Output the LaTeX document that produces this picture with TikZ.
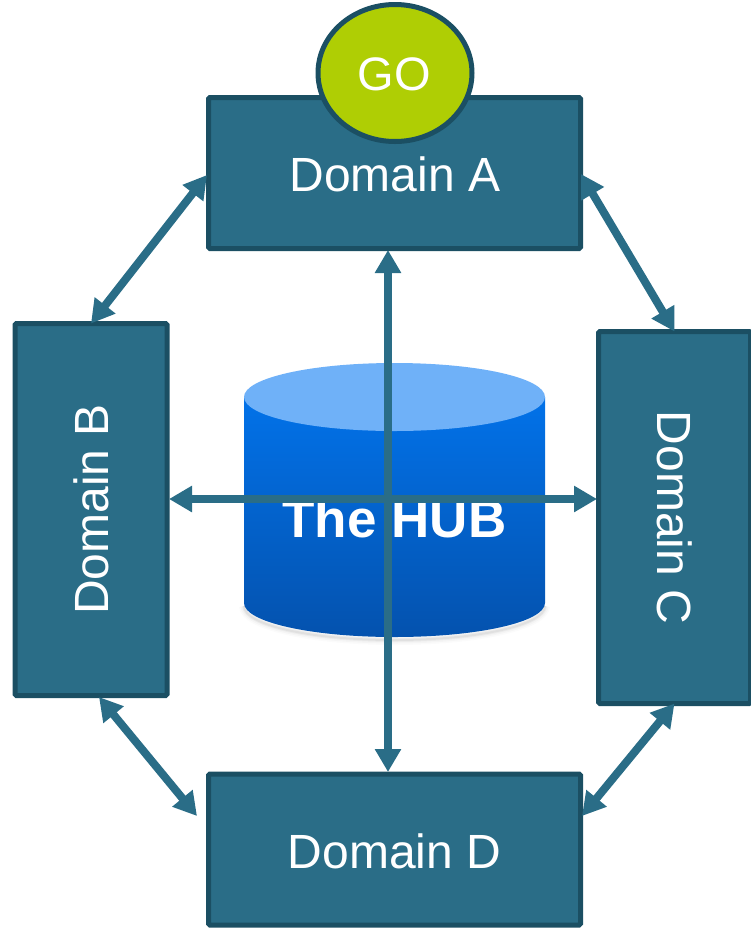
\documentclass[tikz,border=0pt]{standalone}
\usepackage{fontspec}
\setmainfont{Liberation Sans}
\usetikzlibrary{arrows.meta,shapes.geometric}
\definecolor{boxfill}{HTML}{2A6D87}
\definecolor{boxline}{HTML}{1B4F63}
\definecolor{golime}{HTML}{AFCE04}
\definecolor{hubtop}{HTML}{6FB1F8}
\definecolor{hubhigh}{HTML}{0272E9}
\definecolor{hublow}{HTML}{0452AE}
\tikzset{
  domainbox/.style={draw=boxline,fill=boxfill,line width=5pt,rounded corners=1.5pt,outer sep=0pt,inner sep=0pt},
  widebox/.style={domainbox,minimum width=372pt,minimum height=151pt},
  tallbox/.style={domainbox,minimum width=152pt,minimum height=372pt},
  label/.style={text=white,inner sep=0pt,font=\fontsize{48}{50}\selectfont},
  link/.style={draw=boxfill,line width=8pt,{Triangle[length=23pt,width=25pt]}-{Triangle[length=23pt,width=25pt]}},
  axislink/.style={link}
}
\begin{document}
\begin{tikzpicture}[x=1pt,y=-1pt]
\useasboundingbox (0,0) rectangle (751,930);
% hub cylinder
\foreach \w/\o in {10/0.015,7/0.025,4/0.035,2/0.05}{
  \draw[line width=\w pt,black,opacity=\o]
    (244,606) .. controls (244,625) and (311,640) .. (394.5,640)
    .. controls (478,640) and (545,625) .. (545,606);
}
\shade[top color=hubhigh,bottom color=hublow]
  (244,397) -- (244,603) .. controls (244,622) and (311,637) .. (394.5,637)
  .. controls (478,637) and (545,622) .. (545,603) -- (545,397) -- cycle;
\fill[hubtop] (244,397) .. controls (244,378) and (311,363) .. (394.5,363)
  .. controls (478,363) and (545,378) .. (545,397)
  .. controls (545,416) and (478,431) .. (394.5,431)
  .. controls (311,431) and (244,416) .. (244,397) -- cycle;
\node[text=white,inner sep=0pt,anchor=base,font=\fontsize{53}{55}\selectfont\bfseries] (hub) at (394.5,537) {The HUB};
% domains
\node[widebox] (A) at (394.5,173) {};
\node[tallbox] (B) at (91,509.5) {};
\node[tallbox] (C) at (674.5,517.5) {};
\node[widebox] (D) at (394.5,849.5) {};
\node[label,anchor=base] (Alabel) at (395,191) {Domain A};
\node[label,anchor=base,rotate=90] (Blabel) at (108,509.5) {Domain B};
\node[label,anchor=base,rotate=-90] (Clabel) at (657,517.5) {Domain C};
\node[label,anchor=base] (Dlabel) at (394.5,868) {Domain D};
% GO
\node[draw=boxline,fill=golime,line width=5pt,ellipse,minimum width=154pt,minimum height=137pt,inner sep=0pt,outer sep=0pt] (go) at (395,73) {};
\node[label,anchor=base,font=\fontsize{47}{49}\selectfont] (golabel) at (394.5,90.5) {GO};
% connector ends
\coordinate (Atop) at (388,250);
\coordinate (Dtop) at (388,772);
\coordinate (Bside) at (169,499);
\coordinate (Cside) at (597,499);
\coordinate (Bfoot) at (99,697);
\coordinate (Dleft) at (197,816);
\coordinate (Dright) at (582,816);
\coordinate (Aleft) at (207,175);
\coordinate (Aright) at (581,174);
% connectors
\draw[link] (Aleft) -- (B.north);
\draw[link] (Aright) -- (C.north);
\draw[link] (Bfoot) -- (Dleft);
\draw[link] (C.south) -- (Dright);
\draw[axislink] (Atop) -- (Dtop);
\draw[axislink] (Bside) -- (Cside);
\end{tikzpicture}
\end{document}
